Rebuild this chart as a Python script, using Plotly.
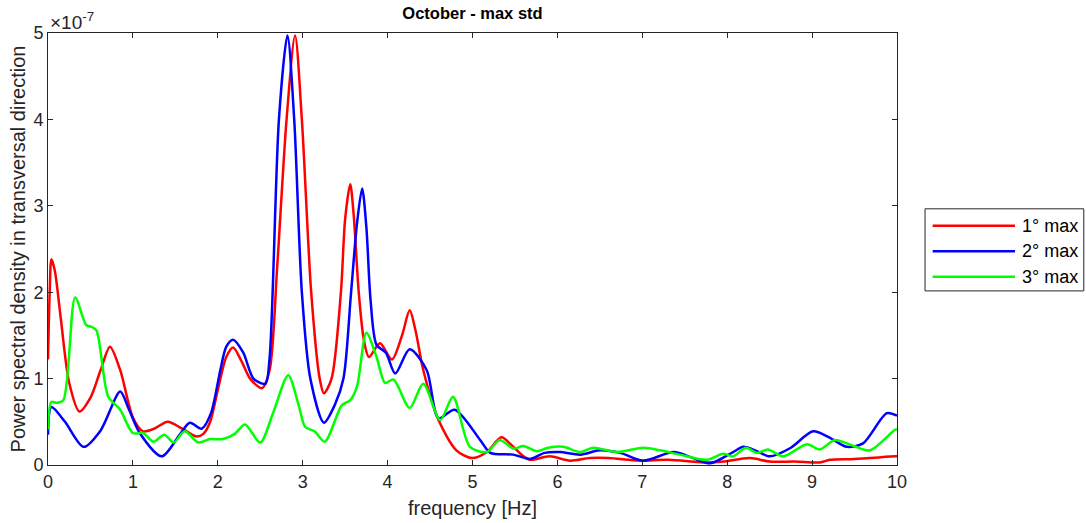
import plotly.graph_objects as go

# PSD values, in units of 1e-7
x_red = [0.0, 0.02, 0.04, 0.08, 0.15, 0.25, 0.37, 0.5, 0.62, 0.73, 0.85, 1.0, 1.12, 1.25, 1.41, 1.58, 1.75, 1.83,
         1.91, 2.0, 2.1, 2.18, 2.28, 2.38, 2.52, 2.61, 2.7, 2.81, 2.91, 2.99, 3.1, 3.2, 3.25, 3.34, 3.45, 3.5,
         3.56, 3.6, 3.66, 3.72, 3.78, 3.91, 4.05, 4.17, 4.26, 4.33, 4.42, 4.6, 4.81, 4.99, 5.17, 5.34, 5.47, 5.6,
         5.68, 5.91, 6.15, 6.38, 6.6, 6.97, 7.3, 7.76, 7.95, 8.27, 8.5, 8.8, 9.09, 9.21, 9.5, 9.98, 10.0]
y_red = [1.22, 2.0, 2.38, 2.25, 1.7, 0.95, 0.62, 0.78, 1.1, 1.37, 1.1, 0.55, 0.39, 0.42, 0.5, 0.42, 0.33, 0.36,
         0.5, 0.87, 1.25, 1.36, 1.2, 1.0, 0.89, 1.1, 2.3, 4.0, 4.97, 4.0, 2.0, 1.0, 0.83, 1.0, 2.0, 2.85,
         3.25, 2.9, 2.0, 1.45, 1.25, 1.41, 1.22, 1.5, 1.79, 1.55, 1.1, 0.52, 0.17, 0.08, 0.15, 0.32, 0.22, 0.1,
         0.06, 0.1, 0.05, 0.08, 0.08, 0.05, 0.06, 0.03, 0.04, 0.08, 0.04, 0.04, 0.03, 0.06, 0.07, 0.1, 0.1]

x_blue = [0.0, 0.04, 0.2, 0.42, 0.62, 0.85, 0.95, 1.08, 1.34, 1.55, 1.67, 1.81, 1.92, 2.03, 2.1, 2.18, 2.3, 2.42,
          2.56, 2.61, 2.72, 2.82, 2.9, 2.99, 3.09, 3.25, 3.38, 3.48, 3.57, 3.64, 3.7, 3.75, 3.8, 3.87, 3.98, 4.09,
          4.26, 4.46, 4.6, 4.79, 5.09, 5.21, 5.48, 5.68, 5.85, 6.03, 6.27, 6.5, 6.74, 7.01, 7.37, 7.6, 7.8, 8.07,
          8.19, 8.35, 8.5, 8.75, 9.01, 9.2, 9.41, 9.6, 9.88, 10.0]
y_blue = [0.35, 0.67, 0.5, 0.21, 0.4, 0.85, 0.65, 0.37, 0.1, 0.35, 0.49, 0.42, 0.6, 1.1, 1.37, 1.45, 1.3, 1.0,
          0.94, 1.24, 4.0, 4.97, 4.0, 2.0, 1.0, 0.49, 0.7, 1.0, 2.0, 2.8, 3.2, 2.75, 1.9, 1.39, 1.3, 1.06,
          1.34, 1.1, 0.54, 0.64, 0.29, 0.14, 0.12, 0.07, 0.14, 0.15, 0.12, 0.17, 0.14, 0.05, 0.15, 0.08, 0.02, 0.15,
          0.21, 0.16, 0.1, 0.2, 0.39, 0.32, 0.21, 0.25, 0.6, 0.57]

x_green = [0.0, 0.04, 0.1, 0.18, 0.32, 0.45, 0.51, 0.57, 0.71, 0.85, 1.0, 1.12, 1.24, 1.37, 1.48, 1.61, 1.77, 1.91,
           2.06, 2.2, 2.32, 2.5, 2.65, 2.83, 2.95, 3.03, 3.14, 3.26, 3.46, 3.56, 3.64, 3.75, 3.87, 3.97, 4.07,
           4.26, 4.42, 4.62, 4.77, 4.97, 5.17, 5.32, 5.48, 5.6, 5.76, 5.89, 6.07, 6.27, 6.42, 6.7, 7.01, 7.21,
           7.44, 7.76, 7.95, 8.07, 8.22, 8.35, 8.48, 8.66, 8.94, 9.09, 9.27, 9.49, 9.68, 9.98, 10.0]
y_green = [0.41, 0.73, 0.72, 0.75, 1.94, 1.62, 1.6, 1.56, 0.79, 0.64, 0.37, 0.37, 0.27, 0.35, 0.26, 0.39, 0.26, 0.3,
           0.3, 0.36, 0.47, 0.26, 0.6, 1.04, 0.7, 0.44, 0.39, 0.27, 0.69, 0.75, 0.91, 1.53, 1.25, 0.95, 0.99,
           0.66, 0.94, 0.52, 0.79, 0.21, 0.15, 0.29, 0.19, 0.22, 0.16, 0.2, 0.21, 0.15, 0.2, 0.15, 0.2, 0.17,
           0.12, 0.06, 0.13, 0.1, 0.2, 0.14, 0.18, 0.1, 0.24, 0.18, 0.29, 0.22, 0.17, 0.41, 0.41]

names = ["1° max", "2° max", "3° max"]
colors = ["#ff0000", "#0000ff", "#00ff00"]
scale = 1e-7

fig = go.Figure()
for xs, ys, col, nm in zip([x_red, x_blue, x_green], [y_red, y_blue, y_green], colors, names):
    fig.add_trace(go.Scatter(x=xs, y=[v * scale for v in ys], mode="lines", name=nm, showlegend=False,
                             line=dict(color=col, width=2.5, shape="spline", smoothing=0.8)))

axcol = "#262626"
fig.update_xaxes(range=[0, 10], tickvals=list(range(11)), ticks="inside", ticklen=5, tickcolor=axcol,
                 showline=True, linecolor=axcol, linewidth=1, mirror="allticks", showgrid=False, zeroline=False,
                 title=dict(text="frequency [Hz]", font=dict(size=20, color=axcol), standoff=10),
                 tickfont=dict(size=18, color=axcol), automargin=False)
fig.update_yaxes(range=[0, 5e-7], tickvals=[i * scale for i in range(6)], ticktext=[str(i) for i in range(6)],
                 ticks="inside", ticklen=5, tickcolor=axcol,
                 showline=True, linecolor=axcol, linewidth=1, mirror="allticks", showgrid=False, zeroline=False,
                 title=dict(text="Power spectral density in transversal direction", font=dict(size=20, color=axcol),
                            standoff=2),
                 tickfont=dict(size=18, color=axcol), automargin=False)

fig.add_annotation(text="×10<sup>-7</sup>", xref="paper", yref="paper", x=0, y=1.0, xanchor="left",
                   yanchor="bottom", yshift=-2, showarrow=False, font=dict(size=19, color=axcol))

# hand-drawn legend, MATLAB style with long line samples
fig.add_shape(type="rect", xref="paper", yref="paper", x0=1.033, x1=1.22, y0=0.403, y1=0.593,
              line=dict(color=axcol, width=1), fillcolor="white")
for i, (nm, col) in enumerate(zip(names, colors)):
    yy = 0.554 - i * 0.059
    fig.add_shape(type="line", xref="paper", yref="paper", x0=1.042, x1=1.139, y0=yy, y1=yy,
                  line=dict(color=col, width=2.5))
    fig.add_annotation(text=nm, xref="paper", yref="paper", x=1.145, y=yy, xanchor="left", yanchor="middle",
                       showarrow=False, font=dict(size=18, color="black"))

fig.update_layout(
    width=1086, height=523,
    margin=dict(l=48, r=189, t=33, b=58),
    paper_bgcolor="white", plot_bgcolor="white",
    font=dict(family="Liberation Sans, Arial, sans-serif"),
    title=dict(text="<b>October - max std</b>", x=(48 + 849 / 2) / 1086, xanchor="center", y=0.985,
               yanchor="top", font=dict(size=16.5, color="black")),
)

fig.write_html("out.html", config={"displayModeBar": False},
               post_script="document.body.style.margin='0';document.body.style.overflow='hidden';")
